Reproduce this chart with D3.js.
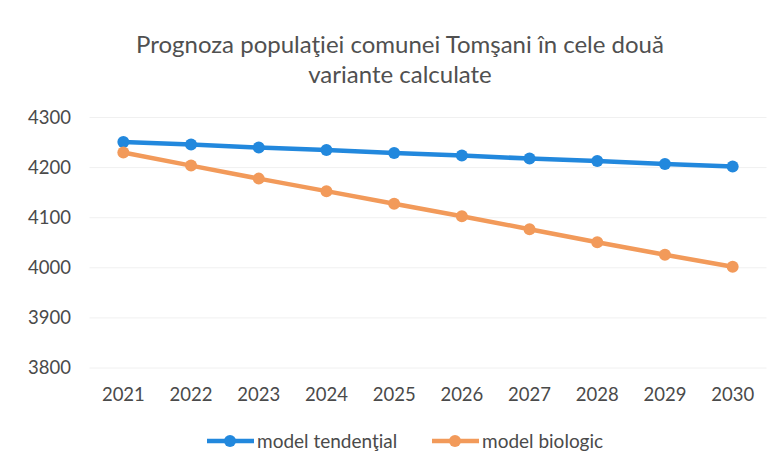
<!DOCTYPE html>
<head>
  <meta charset="utf-8">
  <script src="https://d3js.org/d3.v7.min.js"></script>
</head>
<body>
  <div id="chart"></div>

  <script>
    var years = [2021, 2022, 2023, 2024, 2025, 2026, 2027, 2028, 2029, 2030];
    var tendential = [4251, 4246, 4240, 4235, 4229, 4224, 4218, 4213, 4207, 4202];
    var biologic = [4230, 4204, 4178, 4153, 4128, 4103, 4077, 4051, 4026, 4002];
    var yTicks = [3800, 3900, 4000, 4100, 4200, 4300];
    var seriesNames = ['model tendenţial', 'model biologic'];
    var colors = ['#2288dd', '#f29a5a'];

    var width = 782, height = 468;

    var svg = d3.select('#chart')
      .append('svg')
        .attr('width', width)
        .attr('height', height);

    // title, two lines like in the excel chart
    var title = svg.append('text')
      .attr('text-anchor', 'middle')
      .attr('fill', '#505050')
      .style('font-size', '24px');
    title.append('tspan').attr('x', 400).attr('y', 53)
      .text('Prognoza populaţiei comunei Tomşani în cele două');
    title.append('tspan').attr('x', 400).attr('y', 83)
      .text('variante calculate');

    var x = d3.scaleBand()
      .domain(years)
      .range([89.5, 766.5]);

    var y = d3.scaleLinear()
      .domain([3800, 4300])
      .range([368, 117.5]);

    // gridlines
    svg.append('g')
      .selectAll('line')
      .data(yTicks)
      .join('line')
        .attr('x1', 89.5)
        .attr('x2', 766.5)
        .attr('y1', d => y(d))
        .attr('y2', d => y(d))
        .attr('stroke', '#f0f0f0')
        .attr('stroke-width', 1);

    var yAxis = svg.append('g')
      .attr('transform', 'translate(71,0)')
      .call(d3.axisLeft(y).tickValues(yTicks).tickFormat(d3.format('d')).tickSize(0).tickPadding(0));
    yAxis.select('.domain').remove();

    var xAxis = svg.append('g')
      .attr('transform', 'translate(0,388)')
      .call(d3.axisBottom(x).tickSize(0).tickPadding(0));
    xAxis.select('.domain').remove();

    svg.selectAll('.tick text')
      .attr('fill', '#4a4a4a')
      .style('font-size', '18.5px');

    var series = [tendential, biologic];

    var line = d3.line()
      .x((d, i) => x(years[i]) + x.bandwidth() / 2)
      .y(d => y(d));

    series.forEach(function(values, k) {
      var g = svg.append('g');
      g.append('path')
        .datum(values)
        .attr('fill', 'none')
        .attr('stroke', colors[k])
        .attr('stroke-width', 4.5)
        .attr('d', line);
      g.selectAll('circle')
        .data(values)
        .join('circle')
          .attr('cx', (d, i) => x(years[i]) + x.bandwidth() / 2)
          .attr('cy', d => y(d))
          .attr('r', 6)
          .attr('fill', colors[k]);
    });

    // legend
    var legendX = [207, 432];
    var legend = svg.append('g')
      .selectAll('g')
      .data(seriesNames)
      .join('g')
        .attr('transform', (d, i) => 'translate(' + legendX[i] + ',441)');
    legend.append('line')
      .attr('x1', 0).attr('x2', 47)
      .attr('stroke', (d, i) => colors[i])
      .attr('stroke-width', 4.5);
    legend.append('circle')
      .attr('cx', 23).attr('r', 6)
      .attr('fill', (d, i) => colors[i]);
    legend.append('text')
      .attr('x', 50)
      .attr('dy', '0.35em')
      .attr('fill', '#4a4a4a')
      .style('font-size', '19px')
      .text(d => d);
  </script>
</body>

<style>
  body {
    margin: 0;
    background-color: #ffffff;
    font-family: 'Lato', sans-serif;
  }
  svg text {
    font-family: 'Lato', sans-serif;
  }
</style>
